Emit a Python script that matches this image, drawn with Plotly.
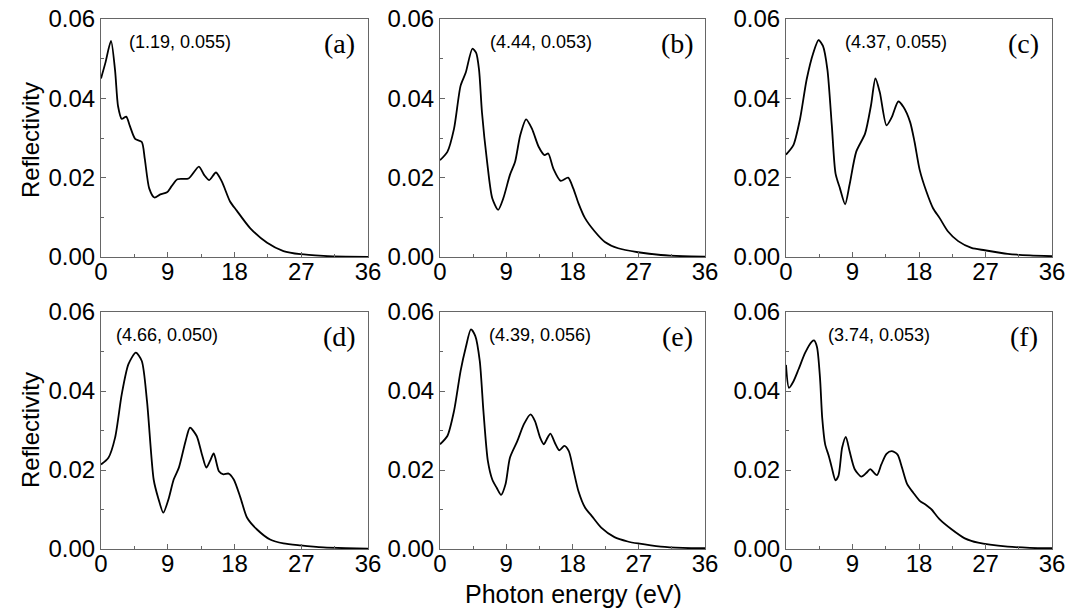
import plotly.graph_objects as go

# ---- data ----
xa = [0.0, 0.6, 1.35, 1.9, 2.3, 2.8, 3.4, 3.9, 4.6, 5.5, 5.9, 6.5, 7.2, 8.0, 8.9, 9.5, 10.3, 11.8,
      13.2, 13.9, 14.6, 15.5, 16.3, 17.4, 18.3, 20.1, 22.4, 24.6, 26.9, 30.0, 33.0, 36.0]
ya = [0.045, 0.049, 0.0545, 0.047, 0.038, 0.0348, 0.0354, 0.033, 0.0298, 0.029, 0.0248, 0.0173, 0.015,
      0.0158, 0.0163, 0.0178, 0.0196, 0.0198, 0.0228, 0.0207, 0.0194, 0.0213, 0.019, 0.014, 0.0117,
      0.0073, 0.0036, 0.0015, 0.0007, 0.0003, 0.0001, 0.0]

xb = [0.0, 1.0, 1.9, 2.8, 3.5, 4.4, 4.9, 5.3, 5.7, 6.4, 7.1, 7.9, 8.6, 9.5, 10.2, 10.9, 11.7, 12.5,
      13.4, 14.2, 14.7, 15.4, 16.4, 17.4, 18.1, 18.8, 19.7, 21.0, 22.4, 24.2, 26.9, 30.0, 33.0, 36.0]
yb = [0.0244, 0.0265, 0.0323, 0.0432, 0.0465, 0.0525, 0.0515, 0.0473, 0.0365, 0.024, 0.0148, 0.0119,
      0.0148, 0.0207, 0.024, 0.0307, 0.0347, 0.0323, 0.0278, 0.0257, 0.0261, 0.0223, 0.0192, 0.02,
      0.0173, 0.0136, 0.0098, 0.0065, 0.0038, 0.0022, 0.0012, 0.0005, 0.0002, 0.0001]

xc = [0.0, 1.0, 1.9, 2.8, 3.7, 4.4, 5.0, 5.6, 6.2, 6.7, 7.3, 8.0, 8.6, 9.5, 10.7, 11.5, 12.1, 12.7,
      13.6, 14.3, 15.2, 15.9, 16.8, 17.4, 18.1, 19.0, 19.9, 20.8, 21.9, 23.3, 25.1, 26.9, 30.0, 33.0, 36.0]
yc = [0.0258, 0.0282, 0.0348, 0.0448, 0.0515, 0.0547, 0.0532, 0.0473, 0.0332, 0.0211, 0.0173, 0.0133,
      0.0182, 0.0265, 0.0311, 0.0382, 0.045, 0.0415, 0.0332, 0.0352, 0.0392, 0.0378, 0.034, 0.029,
      0.0219, 0.0165, 0.0123, 0.0098, 0.0065, 0.004, 0.0023, 0.0017, 0.0008, 0.0004, 0.0002]

xd = [0.0, 1.0, 1.9, 2.8, 3.7, 4.7, 5.5, 6.2, 7.1, 7.7, 8.4, 9.1, 9.8, 10.5, 11.4, 12.0, 12.9, 13.6,
      14.2, 14.7, 15.2, 15.9, 16.5, 17.2, 17.9, 18.8, 19.7, 21.0, 22.8, 24.6, 26.9, 30.0, 33.0, 36.0]
yd = [0.0214, 0.0231, 0.0282, 0.0392, 0.0468, 0.0497, 0.0476, 0.0375, 0.0176, 0.013, 0.0092, 0.0126,
      0.0176, 0.0206, 0.0273, 0.0307, 0.0286, 0.024, 0.0206, 0.0223, 0.0242, 0.0197, 0.0189, 0.0191,
      0.0176, 0.013, 0.0079, 0.005, 0.0024, 0.0014, 0.0009, 0.0004, 0.0002, 0.0001]

xe = [0.0, 1.0, 1.9, 2.8, 3.5, 4.2, 4.8, 5.4, 5.9, 6.5, 7.1, 7.7, 8.3, 8.9, 9.5, 10.5, 11.4, 12.3,
      12.9, 13.6, 14.1, 14.5, 15.0, 15.6, 16.2, 16.9, 17.5, 18.1, 18.8, 19.7, 20.6, 21.9, 23.7, 25.5,
      26.9, 30.0, 33.0, 36.0]
ye = [0.0265, 0.0286, 0.0349, 0.0451, 0.051, 0.0556, 0.0539, 0.0476, 0.0349, 0.0223, 0.0176, 0.0155,
      0.0137, 0.0164, 0.0231, 0.0273, 0.0316, 0.0341, 0.0324, 0.0282, 0.0265, 0.0278, 0.0292, 0.0269,
      0.025, 0.0261, 0.0248, 0.0202, 0.0147, 0.0105, 0.0084, 0.0054, 0.003, 0.0019, 0.0014, 0.0006,
      0.0003, 0.0002]

xf = [0.0, 0.4, 1.0, 1.7, 2.6, 3.5, 3.8, 4.2, 4.6, 4.9, 5.3, 5.8, 6.2, 6.7, 7.1, 7.6, 8.1, 8.6, 9.3,
      10.2, 10.9, 11.4, 12.3, 12.9, 13.6, 14.3, 15.1, 15.7, 16.4, 17.2, 18.1, 19.0, 19.7, 20.8, 22.4,
      24.2, 26.0, 30.0, 33.0, 36.0]
yf = [0.0466, 0.0408, 0.0424, 0.0455, 0.0497, 0.0525, 0.0528, 0.0511, 0.0434, 0.0332, 0.0265, 0.0235,
      0.0206, 0.0174, 0.0185, 0.0257, 0.0284, 0.0248, 0.0202, 0.0183, 0.0193, 0.0202, 0.0187, 0.0214,
      0.0241, 0.0248, 0.0239, 0.0206, 0.0164, 0.0143, 0.0122, 0.0111, 0.01, 0.0075, 0.005, 0.0027,
      0.0016, 0.0006, 0.0003, 0.0002]

panel_labels = ["(a)", "(b)", "(c)", "(d)", "(e)", "(f)"]
peak_labels = ["(1.19, 0.055)", "(4.44, 0.053)", "(4.37, 0.055)",
               "(4.66, 0.050)", "(4.39, 0.056)", "(3.74, 0.053)"]
peak_label_x = [10.6, 13.7, 14.9, 8.9, 13.6, 12.6]
x_ticks = [0, 9, 18, 27, 36]
y_ticks = [0.00, 0.02, 0.04, 0.06]
x_title = "Photon energy (eV)"
y_title = "Reflectivity"

series = [(xa, ya), (xb, yb), (xc, yc), (xd, yd), (xe, ye), (xf, yf)]

# ---- layout geometry ----
W, H = 1072, 615
xdom_px = [(101, 368), (440, 705), (786, 1052)]
ydom_px = [(19, 257), (312, 549)]
SANS = "Liberation Sans, Arial, sans-serif"

fig = go.Figure()
layout = dict(width=W, height=H, margin=dict(l=0, r=0, t=0, b=0, autoexpand=False),
              paper_bgcolor="white", plot_bgcolor="white", showlegend=False,
              font=dict(family=SANS, color="black"))
annotations = []
axcol = "#666666"
for i, (xs, ys) in enumerate(series):
    r, c = divmod(i, 3)
    n = i + 1
    xa_name = "xaxis" if n == 1 else f"xaxis{n}"
    ya_name = "yaxis" if n == 1 else f"yaxis{n}"
    xref = "x" if n == 1 else f"x{n}"
    yref = "y" if n == 1 else f"y{n}"
    fig.add_trace(go.Scatter(x=xs, y=ys, mode="lines", xaxis=xref, yaxis=yref,
                             line=dict(color="black", width=1.8, shape="spline", smoothing=0.7)))
    x0, x1 = xdom_px[c]
    y0, y1 = ydom_px[r]
    layout[xa_name] = dict(domain=[x0 / W, x1 / W], anchor=yref, range=[0, 36], automargin=False,
                           tickvals=x_ticks, ticks="inside", ticklen=5, tickcolor=axcol,
                           ticklabelstandoff=-7,
                           minor=dict(ticks="inside", ticklen=3, tickcolor=axcol, dtick=4.5, tick0=0),
                           showline=True, linecolor=axcol, linewidth=1, mirror=True,
                           showgrid=False, zeroline=False,
                           tickfont=dict(size=24, family=SANS))
    layout[ya_name] = dict(domain=[1 - y1 / H, 1 - y0 / H], anchor=xref, range=[0, 0.06], automargin=False,
                           tickvals=y_ticks, tickformat=".2f", ticks="inside", ticklen=5, tickcolor=axcol,
                           minor=dict(ticks="inside", ticklen=3, tickcolor=axcol, dtick=0.01, tick0=0),
                           showline=True, linecolor=axcol, linewidth=1, mirror=True,
                           showgrid=False, zeroline=False,
                           tickfont=dict(size=24, family=SANS))
    annotations.append(dict(x=peak_label_x[i], y=0.0543, xref=xref, yref=yref, text=peak_labels[i],
                            xanchor="center", yanchor="middle",
                            showarrow=False, font=dict(size=18, family=SANS)))
    annotations.append(dict(x=32.2, y=0.0538, xref=xref, yref=yref, text=panel_labels[i],
                            xanchor="center", yanchor="middle",
                            showarrow=False, font=dict(size=28, family="Liberation Serif, Times New Roman, serif")))

for yc_px in (140, 430):
    annotations.append(dict(x=30 / W, y=1 - yc_px / H, xref="paper", yref="paper", text=y_title, textangle=-90,
                            xanchor="center", yanchor="middle",
                            showarrow=False, font=dict(size=24, family=SANS)))
annotations.append(dict(x=573 / W, y=1 - 594 / H, xref="paper", yref="paper", text=x_title,
                        xanchor="center", yanchor="middle",
                        showarrow=False, font=dict(size=25, family=SANS)))
layout["annotations"] = annotations
fig.update_layout(**layout)
fig.write_html("out.html", config={"displayModeBar": False},
               post_script="document.body.style.margin='0';document.body.style.overflow='hidden';")
